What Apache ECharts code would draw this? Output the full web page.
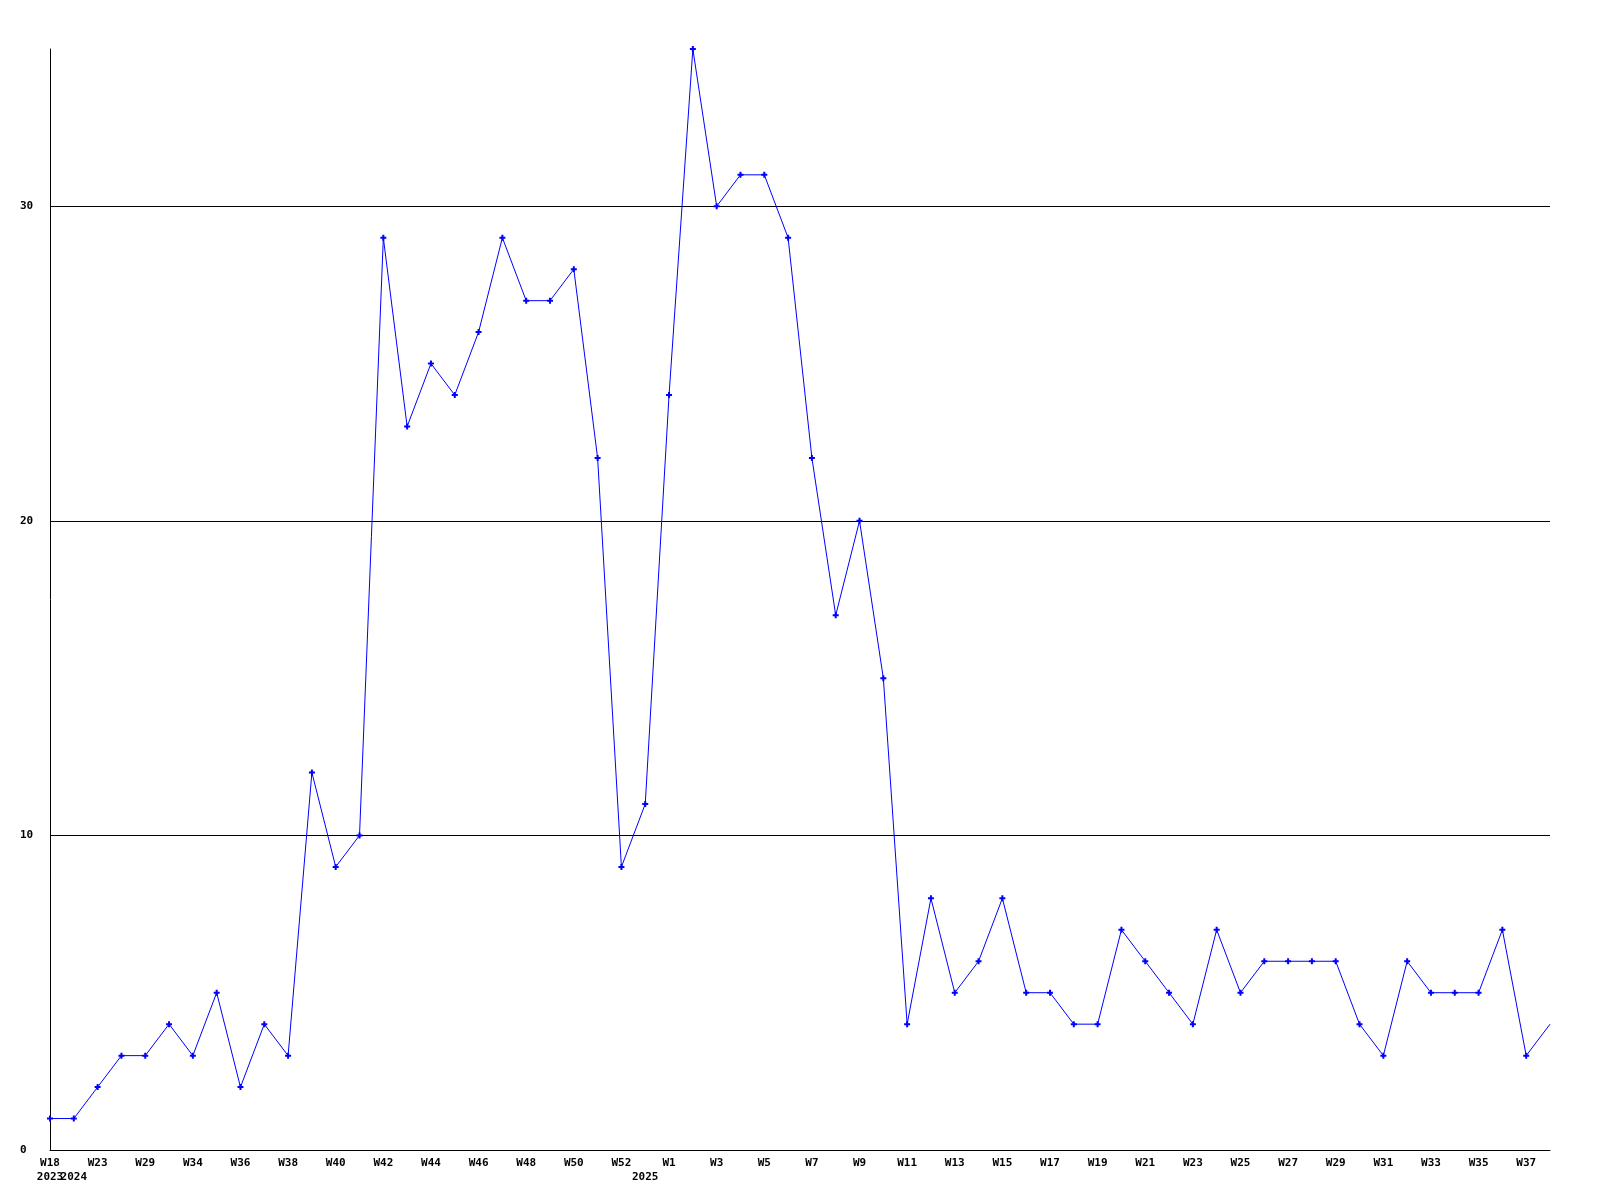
<!DOCTYPE html>
<html>
<head>
<meta charset="utf-8">
<script src="https://cdn.jsdelivr.net/npm/echarts@6/dist/echarts.min.js"></script>
<style>html,body{margin:0;padding:0;background:#fff}#c{width:1600px;height:1200px}</style>
</head>
<body>
<div id="c"></div>
<script>
const weeks = ["W18","W20","W23","W26","W29","W32","W34","W35","W36","W37","W38","W39","W40","W41","W42","W43","W44","W45","W46","W47","W48","W49","W50","W51","W52","W0","W1","W2","W3","W4","W5","W6","W7","W8","W9","W10","W11","W12","W13","W14","W15","W16","W17","W18","W19","W20","W21","W22","W23","W24","W25","W26","W27","W28","W29","W30","W31","W32","W33","W34","W35","W36","W37","W38"];
const years = {0:"2023",1:"2024",25:"2025"};
const counts = [1,1,2,3,3,4,3,5,2,4,3,12,9,10,29,23,25,24,26,29,27,27,28,22,9,11,24,35,30,31,31,29,22,17,20,15,4,8,5,6,8,5,5,4,4,7,6,5,4,7,5,6,6,6,6,4,3,6,5,5,5,7,3,4];
const yTicks = [0,10,20,30];

const font = {fontFamily:"DejaVu Sans Mono", fontWeight:"bold", fontSize:11, color:"#000"};
const plus = 'path://M2,0 L4,0 L4,2 L6,2 L6,4 L4,4 L4,6 L2,6 L2,4 L0,4 L0,2 L2,2 Z';
const seriesData = counts.map((v,i)=> i===counts.length-1 ? {value:v, symbol:'none'} : v);

function yearAxis(filter){
  return {
    type:'category', data:weeks, boundaryGap:false, position:'bottom',
    axisLine:{show:false}, axisTick:{show:false}, splitLine:{show:false},
    axisLabel:Object.assign({
      interval:function(i){return years[i]!==undefined && filter(i);},
      formatter:function(v,i){return years[i]||'';},
      margin:22, hideOverlap:false, showMinLabel:true
    }, font)
  };
}

const chart = echarts.init(document.getElementById('c'), null, {renderer:'canvas'});
chart.setOption({
  animation:false,
  backgroundColor:'#fff',
  grid:{left:50,right:50,top:49,bottom:50,containLabel:false},
  xAxis:[{
    type:'category', data:weeks, boundaryGap:false, position:'bottom',
    axisLine:{show:true,lineStyle:{color:'#000',width:1}},
    axisTick:{show:false},
    splitLine:{show:false},
    axisLabel:Object.assign({interval:1, margin:8, hideOverlap:false, showMinLabel:true}, font)
  },
  yearAxis(function(i){return i===0;}),
  yearAxis(function(i){return i!==0;})
  ],
  yAxis:{
    type:'value', min:0, max:35, interval:10,
    axisLine:{show:true,lineStyle:{color:'#000',width:1}},
    axisTick:{show:false},
    splitLine:{show:true,showMaxLine:false,lineStyle:{color:'#000',width:1}},
    axisLabel:Object.assign({
      margin:30, align:'left',
      showMaxLabel:false,
      formatter:function(v){return yTicks.indexOf(v)>=0 ? String(v) : '';}
    }, font)
  },
  series:[{
    type:'line', data:seriesData, xAxisIndex:0,
    symbol:plus, symbolSize:6, showAllSymbol:true,
    lineStyle:{color:'#0000ff',width:1},
    itemStyle:{color:'#0000ff'},
    clip:false
  }]
});
</script>
</body>
</html>
